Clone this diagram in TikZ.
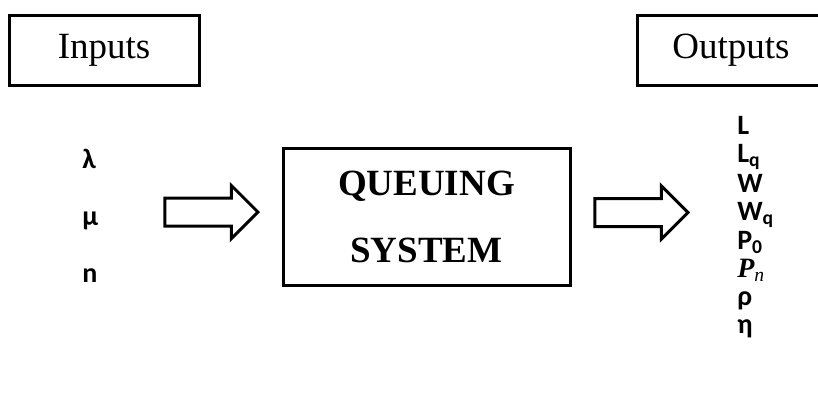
\documentclass[tikz,border=0pt]{standalone}
\usepackage{fontspec}
\setmainfont{Liberation Serif}
\newfontfamily\symfont{Carlito}
\usetikzlibrary{shapes.arrows,positioning}

\begin{document}
\begin{tikzpicture}[x=0.75pt, y=-0.75pt,
	box/.style={draw, line width=2.25pt, inner sep=0pt},
	bigtext/.style={font=\fontsize{27.75}{50.25}\selectfont},
	blockarrow/.style={single arrow, draw, line width=2.25pt, inner xsep=0pt, inner ysep=9.375pt,
		minimum height=69.75pt, anchor=tip,
		single arrow head extend=9.375pt, single arrow head indent=0pt},
	sym/.style={font=\symfont\bfseries\fontsize{21}{24}\selectfont, anchor=base west, inner sep=0pt}]
	\useasboundingbox (0, 0) rectangle (818, 397);
	\clip (0, 0) rectangle (818, 397);
	\node[box, bigtext, minimum width=142.5pt, minimum height=52.5pt] (inputs) at (104, 50) {Inputs};
	\node[box, bigtext, minimum width=141pt, minimum height=52.5pt] (outputs) at (731, 50) {Outputs};
	\node[box, bigtext, font=\bfseries\fontsize{27.75}{50.25}\selectfont, align=center,
		minimum width=215.25pt, minimum height=102.75pt] (system) at (426.5, 216.5) {QUEUING\\SYSTEM};
	\node[blockarrow] (inarrow) at (260, 212) {};
	\node[blockarrow] (outarrow) at (690, 212.5) {};
	\node[sym] (lambda) at (82, 168) {λ};
	\node[sym] (mu) at (82, 225) {μ};
	\node[sym] (n) at (82, 282) {n};
	\foreach \name/\lab/\y in {L/L/134, Lq/L\textsubscript{q}/162, W/W/192, Wq/W\textsubscript{q}/220,
		P0/P\textsubscript{0}/249, Pn/{{\rmfamily\bfseries\itshape P}\textsubscript{\rmfamily\mdseries\itshape n}}/277,
		rho/ρ/305, eta/η/333}
		\node[sym] (\name) at (737, \y) {\lab};
\end{tikzpicture}
\end{document}
